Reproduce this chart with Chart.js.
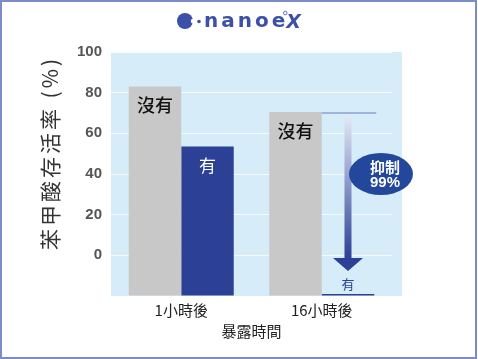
<!DOCTYPE html>
<html>
<head>
<meta charset="utf-8">
<script src="https://cdn.jsdelivr.net/npm/chart.js@4"></script>
<style>
  html, body { margin: 0; padding: 0; background: #ffffff; }
  #wrap { width: 478px; height: 359px; }
</style>
</head>
<body>
<div id="wrap"><canvas id="chart_main" width="478" height="359"></canvas></div>
<script>
// chart data
const categories = ["1小時後", "16小時後"];
const without_values = [83, 70.5];
const with_values = [53.5, -19];
const series_labels = ["沒有", "有"];
const y_ticks = [0, 20, 40, 60, 80, 100];
const y_title = "苯甲酸存活率 (%)";
const x_title = "暴露時間";
const suppress_text = ["抑制", "99%"];

const cjk_font = "'Noto Sans CJK TC', 'Noto Sans', sans-serif";
const logo_color = "#3b50a6";
const bar_blue = "#2c4096";

// light blue plot background + page frame + logo
const background_plugin = {
  id: "background_plugin",
  beforeDraw(chart) {
    const ctx = chart.ctx;
    const area = chart.chartArea;
    ctx.save();
    ctx.fillStyle = "#d6ecf8";
    ctx.fillRect(area.left, area.top, area.right - area.left + 10, area.bottom - area.top);
    ctx.restore();
  },
  afterDraw(chart) {
    const ctx = chart.ctx;
    ctx.save();
    ctx.strokeStyle = "#7b8cc6";
    ctx.lineWidth = 2;
    ctx.strokeRect(1, 1, 475, 357);

    // nanoe X logo
    ctx.fillStyle = logo_color;
    ctx.beginPath();
    ctx.arc(185, 21, 8, 0, Math.PI * 2);
    ctx.fill();
    ctx.fillStyle = "#ffffff";
    ctx.beginPath();
    ctx.arc(193.5, 21, 2.6, 0, Math.PI * 2);
    ctx.fill();
    ctx.fillStyle = logo_color;
    ctx.beginPath();
    ctx.arc(199, 21.5, 1.8, 0, Math.PI * 2);
    ctx.fill();
    ctx.font = "bold 20px 'DejaVu Sans', sans-serif";
    ctx.letterSpacing = "3px";
    ctx.textBaseline = "alphabetic";
    ctx.fillText("nanoe", 204, 27);
    const logo_end = 204 + ctx.measureText("nanoe").width - 2;
    ctx.letterSpacing = "0px";
    ctx.font = "italic bold 19px 'DejaVu Sans', sans-serif";
    ctx.fillText("X", logo_end, 28);
    ctx.lineWidth = 0.8;
    ctx.strokeStyle = logo_color;
    ctx.beginPath();
    ctx.arc(logo_end - 1, 13, 1.8, 0, Math.PI * 2);
    ctx.stroke();

    // y axis title, rotated
    ctx.fillStyle = "#333333";
    ctx.font = "21px " + cjk_font;
    ctx.letterSpacing = "3px";
    ctx.textAlign = "center";
    ctx.textBaseline = "middle";
    ctx.translate(50, 153);
    ctx.rotate(-Math.PI / 2);
    ctx.fillText(y_title, 0, 0);
    ctx.restore();
  }
};

// bar labels, 99% arrow and bubble
const annotation_plugin = {
  id: "annotation_plugin",
  afterDatasetsDraw(chart) {
    const ctx = chart.ctx;
    const y_scale = chart.scales.y;
    const gray_bars = chart.getDatasetMeta(0).data;
    const blue_bars = chart.getDatasetMeta(1).data;
    ctx.save();
    ctx.textAlign = "center";
    ctx.textBaseline = "middle";

    ctx.fillStyle = "#111111";
    ctx.font = "500 18px " + cjk_font;
    gray_bars.forEach(function (bar) {
      ctx.fillText(series_labels[0], bar.x, bar.y + 19);
    });

    ctx.fillStyle = "#ffffff";
    ctx.font = "17px " + cjk_font;
    ctx.fillText(series_labels[1], blue_bars[0].x, blue_bars[0].y + 19);

    const last = blue_bars[1];
    const top_y = y_scale.getPixelForValue(without_values[1]);
    const half = last.width / 2;

    ctx.fillStyle = bar_blue;
    ctx.font = "13px " + cjk_font;
    ctx.fillText(series_labels[1], last.x, last.y - 10);

    // reference line at the "without" level
    ctx.strokeStyle = "#9cb4de";
    ctx.lineWidth = 2;
    ctx.beginPath();
    ctx.moveTo(last.x - half, top_y + 1);
    ctx.lineTo(last.x + half + 2, top_y + 1);
    ctx.stroke();

    // arrow down
    const head_top = last.y - 36;
    const tip_y = last.y - 23;
    const grad = ctx.createLinearGradient(0, top_y + 3, 0, head_top);
    grad.addColorStop(0, "#e4eaf5");
    grad.addColorStop(1, bar_blue);
    ctx.fillStyle = grad;
    ctx.fillRect(last.x - 3.5, top_y + 3, 7, head_top - top_y - 3);
    ctx.fillStyle = bar_blue;
    ctx.beginPath();
    ctx.moveTo(last.x - 15, head_top);
    ctx.lineTo(last.x + 15, head_top);
    ctx.lineTo(last.x, tip_y);
    ctx.closePath();
    ctx.fill();

    // bubble
    const cx = last.x + 33;
    const cy = top_y + 62;
    ctx.fillStyle = "#23479a";
    ctx.beginPath();
    ctx.ellipse(cx, cy, 32, 21, 0, 0, Math.PI * 2);
    ctx.fill();
    ctx.fillStyle = "#ffffff";
    ctx.font = "bold 15px " + cjk_font;
    ctx.fillText(suppress_text[0], cx + 4, cy - 7);
    ctx.font = "bold 15px 'Liberation Sans', sans-serif";
    ctx.fillText(suppress_text[1], cx + 4, cy + 9);
    ctx.restore();
  }
};

const chart_main = new Chart(document.getElementById("chart_main").getContext("2d"), {
  type: "bar",
  data: {
    labels: categories,
    datasets: [
      {
        label: series_labels[0],
        data: without_values,
        backgroundColor: "#c8c8c8",
        base: -20,
        barPercentage: 1,
        categoryPercentage: 0.747,
      },
      {
        label: series_labels[1],
        data: with_values,
        backgroundColor: bar_blue,
        base: -20,
        barPercentage: 1,
        categoryPercentage: 0.747,
      },
    ],
  },
  options: {
    responsive: false,
    animation: false,
    devicePixelRatio: 1,
    layout: {
      padding: { top: 52, right: 86, bottom: 0, left: 0 },
    },
    plugins: {
      legend: { display: false },
      tooltip: { enabled: false },
    },
    scales: {
      x: {
        afterFit: function (scale) {
          scale.height = 63;
        },
        grid: { display: false, drawTicks: false },
        border: { display: false },
        ticks: {
          padding: 5,
          color: "#222222",
          font: { family: cjk_font, size: 15 },
        },
        title: {
          display: true,
          text: x_title,
          color: "#222222",
          font: { family: cjk_font, size: 15 },
          padding: { top: 0, bottom: 19 },
        },
      },
      y: {
        min: -20,
        max: 100,
        afterFit: function (scale) {
          scale.width = 111;
        },
        border: { display: false },
        grid: {
          drawTicks: false,
          lineWidth: 1,
          color: function (context) {
            return context.tick && context.tick.value >= 0 ? "rgba(255,255,255,0.75)" : "rgba(0,0,0,0)";
          },
        },
        ticks: {
          stepSize: 20,
          padding: 9,
          color: "#555555",
          font: { family: "'Liberation Sans', sans-serif", size: 15, weight: "bold" },
          callback: function (value) {
            return y_ticks.includes(value) ? value : "";
          },
        },
      },
    },
  },
  plugins: [background_plugin, annotation_plugin],
});
</script>
</body>
</html>
